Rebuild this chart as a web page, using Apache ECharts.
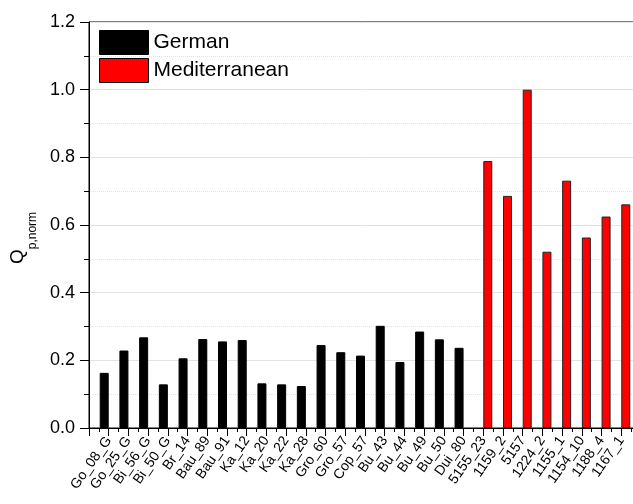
<!DOCTYPE html>
<html>
<head>
<meta charset="utf-8">
<script src="https://cdn.jsdelivr.net/npm/echarts@6/dist/echarts.min.js"></script>
<style>
  html, body { margin: 0; padding: 0; background: #fff; }
  #chart { width: 633px; height: 504px; }
</style>
</head>
<body>
<div id="chart"></div>
<script>
// 样本名称
const germanLabels = ['Go_08_G', 'Go_25_G', 'Bi_56_G', 'Bi_50_G', 'Br_14', 'Bau_89', 'Bau_91', 'Ka_12', 'Ka_20', 'Ka_22',
  'Ka_28', 'Gro_60', 'Gro_57', 'Cop_57', 'Bu_43', 'Bu_44', 'Bu_49', 'Bu_50', 'Dui_80']
const medLabels = ['5155_23', '1159_2', '5157', '1224_2', '1155_1', '1154_10', '1188_4', '1167_1']

// Q_p,norm 数值
const germanValues = [0.163, 0.229, 0.268, 0.129, 0.206, 0.263, 0.256, 0.260, 0.132, 0.129,
  0.124, 0.245, 0.224, 0.214, 0.302, 0.195, 0.285, 0.262, 0.237]
const medValues = [0.789, 0.686, 1.0, 0.521, 0.731, 0.563, 0.625, 0.661]

const allLabels = germanLabels.concat(medLabels)

const chart = echarts.init(document.getElementById('chart'))

const font = 'Liberation Sans, Arial, sans-serif'

const option = {
  animation: false,
  textStyle: { fontFamily: font },
  grid: {
    left: 89, top: 22, right: -8, bottom: 76,
    outerBoundsMode: 'none',
    show: true, borderColor: '#000', borderWidth: 1
  },
  legend: {
    orient: 'vertical',
    left: 99, top: 30, padding: 0,
    itemWidth: 49, itemHeight: 24, itemGap: 3,
    icon: 'rect',
    itemStyle: { borderColor: '#000', borderWidth: 1 },
    textStyle: { fontSize: 21, color: '#000', fontFamily: font },
    data: ['German', 'Mediterranean']
  },
  xAxis: {
    type: 'value',
    min: 0, max: 28, interval: 1,
    axisLine: { lineStyle: { color: '#000', width: 1 } },
    axisTick: { show: true, length: 8, lineStyle: { color: '#000' } },
    minorTick: { show: true, splitNumber: 2, length: 4, lineStyle: { color: '#000' } },
    splitLine: { show: false },
    axisLabel: {
      rotate: 55, fontSize: 14, color: '#000', margin: 10, fontFamily: font,
      showMinLabel: true, showMaxLabel: true,
      formatter: v => allLabels[v - 1] || ''
    }
  },
  yAxis: {
    type: 'value',
    min: 0, max: 1.2, interval: 0.2,
    name: '{q|Q}{s|p,norm}',
    nameLocation: 'middle',
    nameRotate: 90,
    nameGap: 49,
    nameTextStyle: {
      color: '#000',
      padding: [0, 26, 0, 0],
      rich: {
        q: { fontSize: 19, lineHeight: 20, verticalAlign: 'top', fontFamily: font, color: '#000' },
        s: { fontSize: 12, lineHeight: 12, verticalAlign: 'top', padding: [19, 0, 0, 0], fontFamily: font, color: '#000' }
      }
    },
    axisLine: { show: true, lineStyle: { color: '#000', width: 1 } },
    axisTick: { show: true, length: 9, lineStyle: { color: '#000' } },
    minorTick: { show: true, splitNumber: 2, length: 5, lineStyle: { color: '#000' } },
    splitLine: { show: true, lineStyle: { color: '#e3e3e3', width: 1 } },
    minorSplitLine: { show: true, lineStyle: { color: '#e3e3e3', type: 'dotted', width: 1 } },
    axisLabel: {
      fontSize: 18, color: '#000', margin: 14, fontFamily: font,
      formatter: v => v.toFixed(1)
    }
  },
  series: [
    {
      name: 'German',
      type: 'bar',
      barWidth: 9,
      barGap: '0%',
      itemStyle: { color: '#000', borderColor: '#000', borderWidth: 1 },
      data: germanValues.map((v, i) => [i + 1, v])
    },
    {
      name: 'Mediterranean',
      type: 'bar',
      barWidth: 9,
      barGap: '0%',
      itemStyle: { color: '#ff0000', borderColor: '#222', borderWidth: 1 },
      data: medValues.map((v, i) => [germanLabels.length + i + 1, v])
    }
  ]
}

chart.setOption(option)
</script>
</body>
</html>
